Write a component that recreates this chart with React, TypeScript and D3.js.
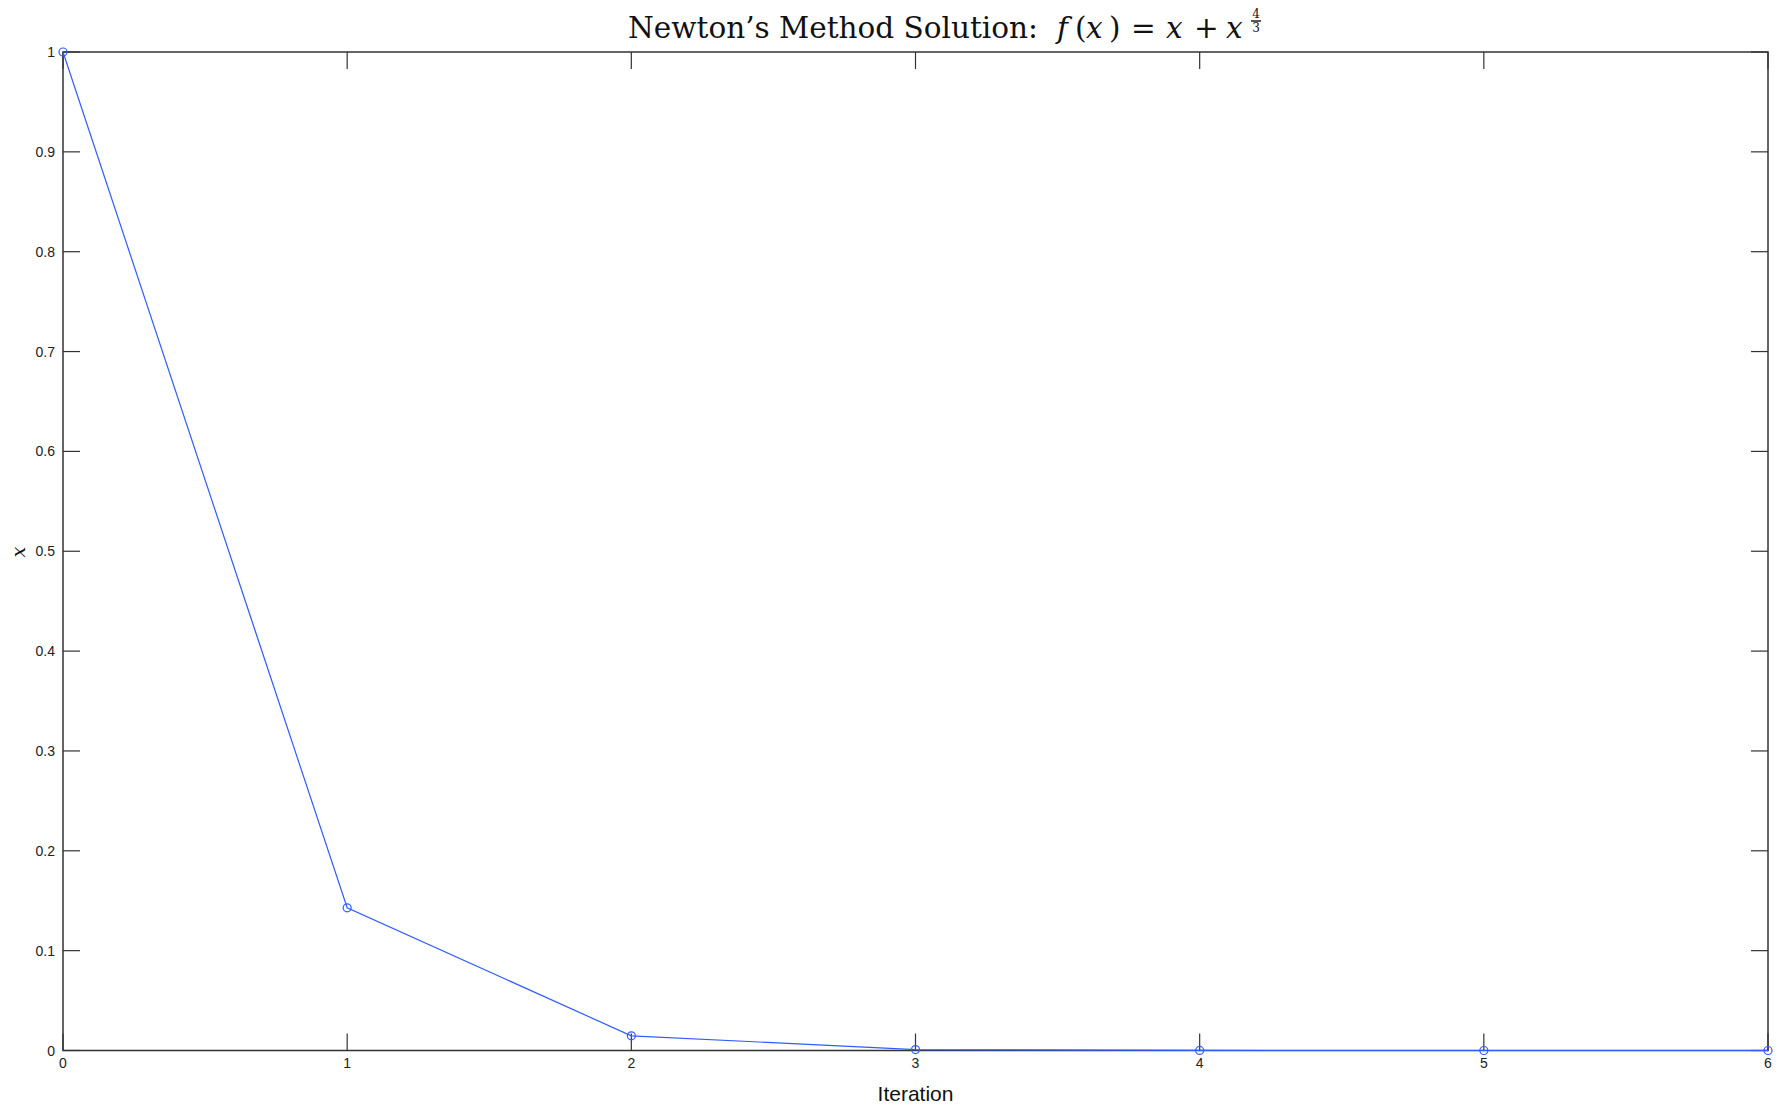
import React from "react";
import * as d3 from "d3";

const iterations = [0, 1, 2, 3, 4, 5, 6];
const xValues = [1, 0.1429, 0.0147, 0.0009, 0.00003, 0.0000003, 0];
const xTicks = [0, 1, 2, 3, 4, 5, 6];
const yTicks = [0, 0.1, 0.2, 0.3, 0.4, 0.5, 0.6, 0.7, 0.8, 0.9, 1];

const W = 1785;
const H = 1108;
const L = 63;
const R = 1768;
const T = 52;
const B = 1050.5;

export default function App() {
  const x = d3.scaleLinear().domain([0, 6]).range([L, R]);
  const y = d3.scaleLinear().domain([0, 1]).range([B, T]);
  const line = d3
    .line<number>()
    .x((_, i) => x(iterations[i]))
    .y((d) => y(d));
  const tickLen = 17;
  const axisColor = "#333";
  const blue = "#2f5cff";
  const fmt = (v: number) => (v === 0 ? "0" : v === 1 ? "1" : d3.format(".1f")(v));
  const ts = 29.5;
  const tb = 38;
  return (
    <svg
      width={W}
      height={H}
      style={{ position: "absolute", left: 0, top: 0, background: "#fff" }}
    >
      <rect x={0} y={0} width={W} height={H} fill="#fff" />
      {/* ticks */}
      {xTicks.map((t) => (
        <g key={"xt" + t}>
          <line x1={x(t)} x2={x(t)} y1={B} y2={B - tickLen} stroke={axisColor} strokeWidth={1.2} />
          <line x1={x(t)} x2={x(t)} y1={T} y2={T + tickLen} stroke={axisColor} strokeWidth={1.2} />
          <text
            x={x(t)}
            y={1068}
            textAnchor="middle"
            fontFamily="Liberation Sans, Arial, sans-serif"
            fontSize={14}
            fill="#222"
          >
            {t}
          </text>
        </g>
      ))}
      {yTicks.map((t) => (
        <g key={"yt" + t}>
          <line x1={L} x2={L + tickLen} y1={y(t)} y2={y(t)} stroke={axisColor} strokeWidth={1.2} />
          <line x1={R} x2={R - tickLen} y1={y(t)} y2={y(t)} stroke={axisColor} strokeWidth={1.2} />
          <text
            x={55}
            y={y(t) + 5}
            textAnchor="end"
            fontFamily="Liberation Sans, Arial, sans-serif"
            fontSize={14}
            fill="#222"
          >
            {fmt(t)}
          </text>
        </g>
      ))}
      {/* frame */}
      <rect x={L} y={T} width={R - L} height={B - T} fill="none" stroke={axisColor} strokeWidth={1.5} />
      {/* data */}
      <path d={line(xValues) || ""} fill="none" stroke={blue} strokeWidth={1.2} />
      {xValues.map((v, i) => (
        <circle key={"p" + i} cx={x(iterations[i])} cy={y(v)} r={4} fill="none" stroke={blue} strokeWidth={1.2} />
      ))}
      {/* x label */}
      <text
        x={(L + R) / 2}
        y={1101}
        textAnchor="middle"
        fontFamily="Liberation Sans, Arial, sans-serif"
        fontSize={21}
        fill="#111"
      >
        Iteration
      </text>
      {/* y label */}
      <text
        transform={`translate(25, ${(T + B) / 2 + 1}) rotate(-90)`}
        textAnchor="middle"
        fontFamily="DejaVu Serif, serif"
        fontStyle="italic"
        fontSize={19}
        fill="#111"
      >
        x
      </text>
      {/* title */}
      <g fontFamily="DejaVu Serif, serif" fill="#111" fontSize={ts}>
        <text x={628} y={tb}>Newton’s Method Solution:</text>
        <text x={1057} y={tb} fontStyle="italic">f</text>
        <text x={1075} y={tb}>(</text>
        <text x={1086} y={tb} fontStyle="italic">x</text>
        <text x={1109} y={tb}>)</text>
        <text x={1131} y={tb}>=</text>
        <text x={1166} y={tb} fontStyle="italic">x</text>
        <text x={1194} y={tb}>+</text>
        <text x={1226} y={tb} fontStyle="italic">x</text>
        <text x={1256} y={18} fontSize={12} textAnchor="middle">4</text>
        <line x1={1251} x2={1261} y1={21} y2={21} stroke="#111" strokeWidth={1.4} />
        <text x={1256} y={32} fontSize={12} textAnchor="middle">3</text>
      </g>
    </svg>
  );
}
